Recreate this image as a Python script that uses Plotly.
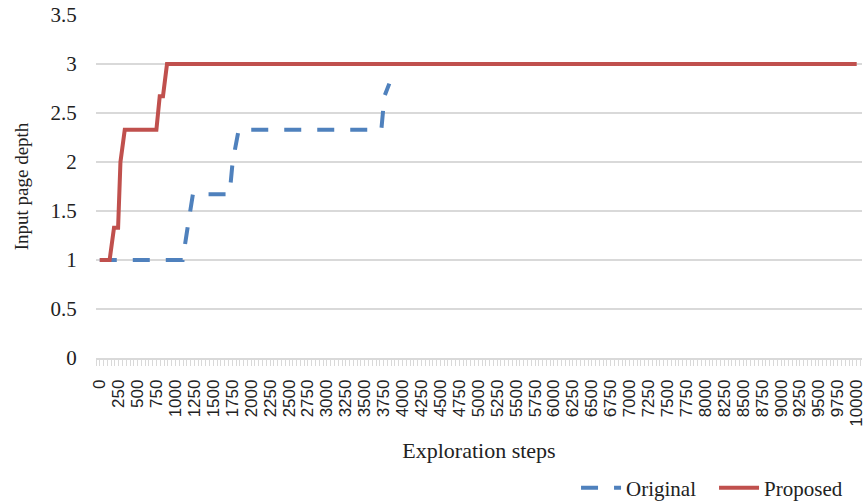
import plotly.graph_objects as go

# Exploration steps vs. input page depth for the two strategies
original_steps = [0, 1095, 1160, 1230, 1715, 1755, 1835, 3720, 3760, 3825]
original_depth = [1.0, 1.0, 1.33, 1.67, 1.67, 2.0, 2.33, 2.33, 2.67, 2.8]

proposed_steps = [0, 130, 188, 242, 273, 330, 748, 792, 835, 888, 10000]
proposed_depth = [1.0, 1.0, 1.33, 1.33, 2.0, 2.33, 2.33, 2.67, 2.67, 3.0, 3.0]

x_ticks = list(range(0, 10001, 250))
y_ticks = [0, 0.5, 1, 1.5, 2, 2.5, 3, 3.5]

SERIF = "Liberation Serif, Times New Roman, serif"
SANS = "Liberation Sans, Arial, sans-serif"

fig = go.Figure()
fig.add_trace(go.Scatter(
    x=original_steps, y=original_depth, mode="lines", name="Original",
    line=dict(color="#4F81BD", width=4, dash="17px,16px"),
))
fig.add_trace(go.Scatter(
    x=proposed_steps, y=proposed_depth, mode="lines", name="Proposed",
    line=dict(color="#C0504D", width=4),
))

fig.update_layout(
    width=865, height=501,
    margin=dict(l=96, r=3, t=15, b=143, autoexpand=False),
    paper_bgcolor="white", plot_bgcolor="white",
    showlegend=True,
    legend=dict(
        orientation="h", xanchor="right", x=0.987, yanchor="middle", y=-0.379,
        font=dict(family=SERIF, size=21, color="#222"),
        itemwidth=40, entrywidth=83, entrywidthmode="pixels",
        bgcolor="rgba(0,0,0,0)",
    ),
    xaxis=dict(
        range=[-50, 10070], automargin=False,
        tickmode="array", tickvals=x_ticks, ticktext=[str(v) for v in x_ticks],
        tickangle=-90, ticklabeloverflow="allow",
        tickfont=dict(family=SANS, size=17, color="#222"),
        showgrid=False, zeroline=False,
        showline=True, linecolor="#d9d9d9", linewidth=1.5,
        ticks="outside", ticklen=6, tickcolor="#d9d9d9", tickwidth=1,
        ticklabelstandoff=7,
        minor=dict(dtick=50, tick0=0, ticks="outside", ticklen=6,
                   tickcolor="#d9d9d9", tickwidth=1, showgrid=False),
        title=dict(text="Exploration steps", standoff=17,
                   font=dict(family=SERIF, size=22, color="#222")),
    ),
    yaxis=dict(
        range=[0, 3.5], automargin=False,
        tickmode="array", tickvals=y_ticks, ticktext=["0", "0.5", "1", "1.5", "2", "2.5", "3", "3.5"],
        tickfont=dict(family=SERIF, size=21, color="#222"),
        showgrid=True, gridcolor="#d9d9d9", gridwidth=1.5,
        zeroline=False, showline=False,
        ticks="outside", ticklen=14, tickcolor="rgba(0,0,0,0)",
        title=dict(text="Input page depth", standoff=16,
                   font=dict(family=SERIF, size=19, color="#222")),
    ),
)

fig.write_html("out.html")
